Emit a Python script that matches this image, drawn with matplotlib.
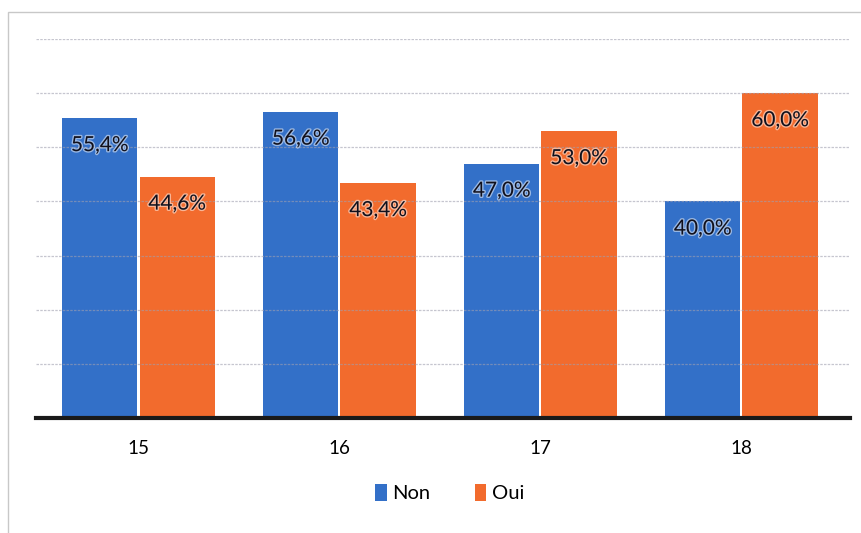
import numpy as np
import matplotlib.pyplot as plt
import matplotlib.patheffects as pe
from matplotlib.patches import Rectangle

# data
ages = ["15", "16", "17", "18"]
non = [55.4, 56.6, 47.0, 40.0]
oui = [44.6, 43.4, 53.0, 60.0]
series = ["Non", "Oui"]
colors = ["#3370c8", "#f26b2d"]

plt.rcParams['font.family'] = ['Lato', 'DejaVu Sans']

fig = plt.figure(figsize=(8.61, 5.33), dpi=100)
ax = fig.add_axes([36/861, 1-418/533, 814/861, (418-39)/533])

# frame around the chart like the scan
fig.patches.append(Rectangle((8/861, -0.1), 1.1, 1.1-12/533, transform=fig.transFigure,
                             fill=False, edgecolor="#c8c8c8", linewidth=1))

x = np.arange(len(ages))
w = 0.375
b1 = ax.bar(x - w/2 - 0.005, non, w, color=colors[0], label=series[0], zorder=2)
b2 = ax.bar(x + w/2 + 0.005, oui, w, color=colors[1], label=series[1], zorder=2)

# value labels inside the bars
for bars in (b1, b2):
    for r in bars:
        v = r.get_height()
        ax.text(r.get_x() + r.get_width()/2, v - 5.0, ("%.1f%%" % v).replace(".", ","),
                ha="center", va="center", fontsize=15, color="#10101c", zorder=4,
                path_effects=[pe.withStroke(linewidth=2, foreground="#ffffff", alpha=0.5)])

ax.set_xlim(-0.51, 3.54)
ax.set_ylim(0, 70)
ax.set_yticks(np.arange(10, 80, 10))
ax.yaxis.grid(True, color="#a0a0b0", linestyle=(0, (2, 1)), linewidth=0.9, alpha=0.6, zorder=3)
ax.set_axisbelow(False)
ax.tick_params(axis="y", left=False, labelleft=False)
ax.tick_params(axis="x", length=0, pad=16, labelsize=13.5)
ax.set_xticks(x)
ax.set_xticklabels(ages)
for s in ["top", "right", "left"]:
    ax.spines[s].set_visible(False)
ax.spines["bottom"].set_linewidth(3)
ax.spines["bottom"].set_color("#1a1a1a")
ax.spines["bottom"].set_zorder(5)

fig.legend(loc="center", bbox_to_anchor=(450/861, 1-493/533), ncol=2, frameon=False,
           fontsize=14.5, handlelength=0.55, handleheight=0.9, handletextpad=0.3,
           columnspacing=2.2)

fig.savefig("out.png", dpi=100)
